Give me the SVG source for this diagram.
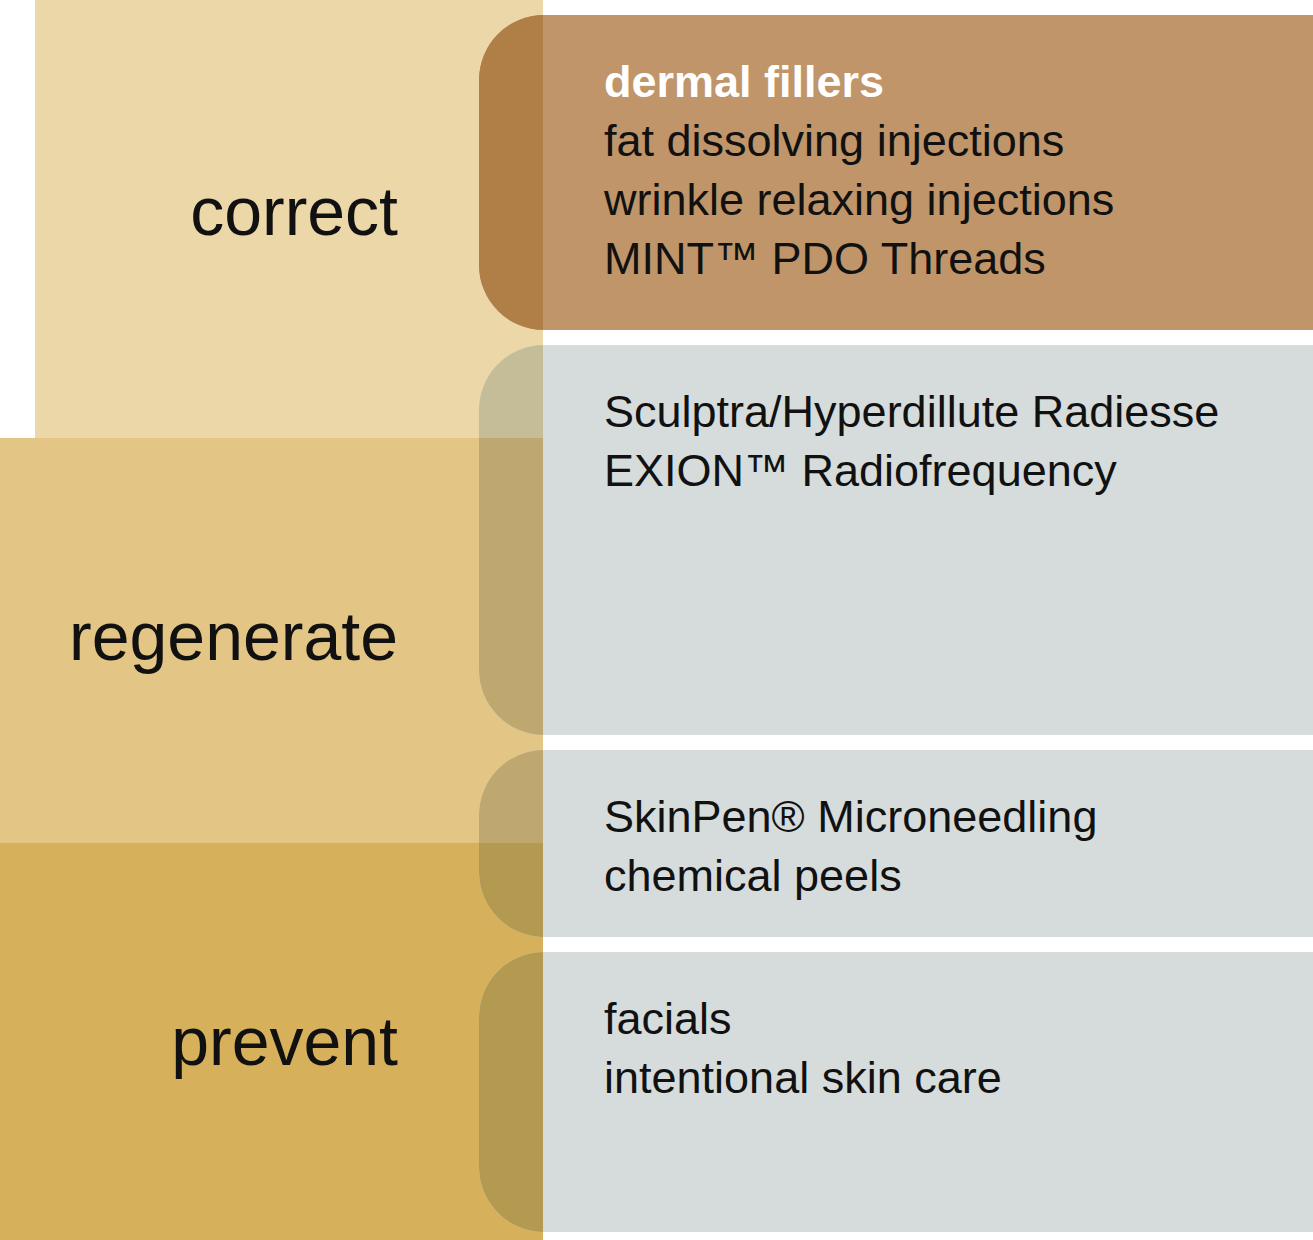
<svg xmlns="http://www.w3.org/2000/svg" width="1313" height="1240" viewBox="0 0 1313 1240">
<style>
.lbl{font-family:"Liberation Sans",Arial,sans-serif;font-size:68px;fill:#111;text-anchor:end}
.it{font-family:"Liberation Sans",Arial,sans-serif;font-size:45px;fill:#111}
</style>
<defs>
<clipPath id="c1"><rect x="479" y="15" width="900" height="315" rx="65"/></clipPath>
<clipPath id="c2"><rect x="479" y="345" width="900" height="390" rx="65"/></clipPath>
<clipPath id="c3"><rect x="479" y="750" width="900" height="187" rx="65"/></clipPath>
<clipPath id="c4"><rect x="479" y="952" width="900" height="280" rx="65"/></clipPath>
</defs>
<rect width="1313" height="1240" fill="#fff"/>
<g id="band-correct"><rect x="35" y="0" width="508" height="438" fill="#ecd7a9"/><text class="lbl" x="398" y="235">correct</text></g>
<g id="band-regenerate"><rect x="0" y="438" width="543" height="405" fill="#e3c586"/><text class="lbl" x="398" y="660">regenerate</text></g>
<g id="band-prevent"><rect x="0" y="843" width="543" height="397" fill="#d7b05b"/><text class="lbl" x="398" y="1065">prevent</text></g>
<g id="box1"><g clip-path="url(#c1)"><rect x="479" y="15" width="834" height="315" fill="#bf9569"/><rect x="479" y="15" width="64" height="315" fill="#b07f48"/></g>
<text class="it" x="604" y="97" style="font-weight:bold;fill:#fff">dermal fillers</text>
<text class="it" x="604" y="156">fat dissolving injections</text>
<text class="it" x="604" y="215">wrinkle relaxing injections</text>
<text class="it" x="604" y="274">MINT™ PDO Threads</text></g>
<g id="box2"><g clip-path="url(#c2)"><rect x="479" y="345" width="834" height="390" fill="#d5dcdb"/><rect x="479" y="345" width="64" height="93" fill="#c5bc98"/><rect x="479" y="438" width="64" height="297" fill="#bfa870"/></g>
<text class="it" x="604" y="427">Sculptra/Hyperdillute Radiesse</text>
<text class="it" x="604" y="486">EXION™ Radiofrequency</text></g>
<g id="box3"><g clip-path="url(#c3)"><rect x="479" y="750" width="834" height="187" fill="#d5dcdb"/><rect x="479" y="750" width="64" height="93" fill="#bfa870"/><rect x="479" y="843" width="64" height="94" fill="#b39a50"/></g>
<text class="it" x="604" y="832">SkinPen® Microneedling</text>
<text class="it" x="604" y="891">chemical peels</text></g>
<g id="box4"><g clip-path="url(#c4)"><rect x="479" y="952" width="834" height="280" fill="#d5dcdb"/><rect x="479" y="952" width="64" height="280" fill="#b39a50"/></g>
<text class="it" x="604" y="1034">facials</text>
<text class="it" x="604" y="1093">intentional skin care</text></g>
<g id="connectors"/>
</svg>
